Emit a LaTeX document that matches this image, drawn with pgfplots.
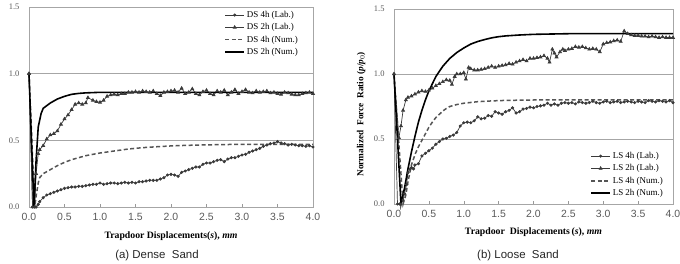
\documentclass[border=0pt]{standalone}
\usepackage{pgfplots}
\pgfplotsset{compat=1.18}
\usepackage{fontspec}
\setmainfont{Liberation Serif}
\newfontfamily\tsans{Liberation Sans}
\definecolor{lab}{HTML}{3A3A3A}
\definecolor{numd}{HTML}{555555}
\definecolor{tick}{HTML}{595959}
\pgfplotsset{
  myax/.style={
    scale only axis, anchor=south west,
    xmin=0, xmax=4, ymin=0, ymax=1.5,
    xtick={0,0.5,1,1.5,2,2.5,3,3.5,4},
    ytick={0,0.5,1,1.5},
    ymajorgrids, grid style={black!35, line width=0.5bp},
    axis line style={black!35, line width=0.5bp},
    xtick pos=bottom, ytick pos=left,
    ytick style={draw=none},
    xtick style={black!40, line width=0.5bp},
    tick align=inside, major tick length=3bp,
    xticklabel style={font=\tsans\fontsize{10.5}{11}\selectfont, text=tick, yshift=-3bp},
    yticklabel style={font=\fontsize{8.5}{9}\selectfont, text=tick, xshift=-6bp},
    xticklabel={\pgfmathprintnumber[fixed,fixed zerofill,precision=1]{\tick}},
    yticklabel={\pgfmathprintnumber[fixed,fixed zerofill,precision=1]{\tick}},
    /pgf/number format/assume math mode=true,
    xlabel style={font=\fontsize{9.8}{10}\selectfont, at={(axis description cs:0.5,-0.145)}, anchor=center},
    ylabel={\textbf{Normalized\ \ Force\ \ Ratio (\textit{p}/\textit{p}$_0$)}},
    ylabel style={font=\fontsize{9.3}{10}\selectfont, at={(axis description cs:-0.118,0.46)}, anchor=center, rotate=0},
    legend style={draw=none, fill=none, font=\fontsize{9}{9}\selectfont, row sep=0.6bp, inner sep=1bp},
    legend cell align=left,
    legend image code/.code={\draw[mark repeat=2,mark phase=2] plot coordinates {(0cm,0cm) (0.33cm,0cm) (0.66cm,0cm)};},
    clip=false,
  },
  labc/.style={color=lab, line width=0.7bp, mark=*, mark size=1.2bp, mark options={fill=lab, draw=lab}},
  labt/.style={color=lab, line width=0.7bp, mark=triangle*, mark size=1.7bp, mark options={fill=lab, draw=lab}},
  numd/.style={color=numd, line width=1.5bp, dash pattern=on 4bp off 2.5bp, mark=none},
  nums/.style={color=black, line width=1.6bp, mark=none},
}
\begin{document}
\begin{tikzpicture}[x=1bp,y=1bp]
\begin{axis}[myax, at={(29bp,56bp)}, width=284bp, height=200bp,
  xlabel={\textbf{Trapdoor Displacements(\textit{s}), \textit{mm}}},
  legend style={at={(axis description cs:0.958,0.995)}, anchor=north east}]
\addplot[labc] coordinates {
(0,1.0)(0.05,0.0)(0.08,0.0)(0.10,0.0)(0.13,0.02)(0.15,0.04)(0.20,0.07)(0.25,0.09)(0.30,0.10)(0.35,0.11)
(0.40,0.12)(0.45,0.13)(0.50,0.14)(0.55,0.145)(0.60,0.15)(0.65,0.15)(0.70,0.155)(0.75,0.155)(0.80,0.16)(0.85,0.165)
(0.90,0.17)(0.95,0.17)(1.00,0.18)(1.05,0.17)(1.10,0.175)(1.15,0.18)(1.20,0.18)(1.25,0.175)(1.30,0.18)(1.35,0.185)
(1.40,0.18)(1.45,0.185)(1.50,0.18)(1.55,0.19)(1.60,0.19)(1.65,0.195)(1.70,0.20)(1.75,0.20)(1.80,0.20)(1.85,0.21)
(1.90,0.22)(1.95,0.24)(2.00,0.245)(2.05,0.24)(2.10,0.23)(2.15,0.26)(2.20,0.27)(2.25,0.28)(2.30,0.29)(2.35,0.30)
(2.40,0.30)(2.45,0.32)(2.50,0.33)(2.55,0.33)(2.60,0.34)(2.65,0.35)(2.70,0.355)(2.75,0.34)(2.80,0.36)(2.85,0.37)
(2.90,0.37)(2.95,0.38)(3.00,0.39)(3.05,0.395)(3.10,0.41)(3.15,0.42)(3.20,0.43)(3.25,0.44)(3.30,0.455)(3.35,0.465)
(3.40,0.475)(3.45,0.48)(3.50,0.49)(3.55,0.48)(3.60,0.475)(3.65,0.465)(3.70,0.47)(3.75,0.465)(3.80,0.46)(3.85,0.46)
(3.90,0.455)(3.95,0.46)(4.00,0.45)};
\addlegendentry{DS 4h (Lab.)}
\addplot[labt] coordinates {
(0,1.0)(0.05,0.0)(0.08,0.0)(0.10,0.25)(0.13,0.40)(0.15,0.43)(0.20,0.46)(0.25,0.51)(0.30,0.54)(0.35,0.55)
(0.40,0.57)(0.45,0.62)(0.50,0.66)(0.55,0.69)(0.60,0.73)(0.65,0.77)(0.70,0.78)(0.75,0.77)(0.80,0.78)(0.83,0.82)
(0.90,0.80)(0.95,0.79)(1.00,0.785)(1.05,0.80)(1.10,0.83)(1.15,0.84)(1.20,0.845)(1.25,0.84)(1.30,0.85)(1.35,0.85)
(1.40,0.86)(1.45,0.86)(1.50,0.865)(1.55,0.86)(1.60,0.87)(1.65,0.865)(1.70,0.86)(1.75,0.87)(1.80,0.85)(1.85,0.835)
(1.90,0.86)(1.95,0.865)(2.00,0.87)(2.05,0.875)(2.10,0.86)(2.15,0.89)(2.20,0.85)(2.25,0.86)(2.30,0.885)(2.35,0.85)
(2.40,0.84)(2.45,0.865)(2.50,0.875)(2.55,0.85)(2.60,0.84)(2.65,0.87)(2.70,0.86)(2.75,0.875)(2.80,0.84)(2.85,0.86)
(2.90,0.88)(2.95,0.85)(3.00,0.865)(3.05,0.88)(3.10,0.86)(3.15,0.855)(3.20,0.87)(3.25,0.86)(3.30,0.865)(3.35,0.87)
(3.40,0.855)(3.45,0.86)(3.50,0.85)(3.55,0.845)(3.60,0.86)(3.65,0.855)(3.70,0.845)(3.75,0.84)(3.80,0.84)(3.85,0.85)
(3.90,0.855)(3.95,0.86)(4.00,0.85)};
\addlegendentry{DS 2h (Lab.)}
\addplot[numd] coordinates {
(0,1.0)(0.08,0.0)(0.10,0.08)(0.13,0.18)(0.15,0.22)(0.20,0.25)(0.30,0.28)(0.40,0.31)(0.50,0.335)(0.60,0.355)
(0.70,0.37)(0.80,0.385)(0.90,0.395)(1.00,0.405)(1.20,0.42)(1.40,0.435)(1.60,0.445)(1.80,0.452)(2.00,0.458)
(2.20,0.462)(2.40,0.465)(2.70,0.468)(3.00,0.47)(3.50,0.47)(4.00,0.47)};
\addlegendentry{DS 4h (Num.)}
\addplot[nums] coordinates {
(0,1.0)(0.07,0.0)(0.10,0.35)(0.13,0.60)(0.17,0.70)(0.20,0.74)(0.25,0.76)(0.30,0.78)(0.40,0.81)(0.50,0.83)
(0.60,0.845)(0.70,0.852)(0.80,0.856)(0.90,0.858)(1.00,0.86)(1.50,0.86)(4.00,0.86)};
\addlegendentry{DS 2h (Num.)}
\end{axis}
\begin{axis}[myax, at={(394bp,59bp)}, width=279bp, height=195bp,
  xlabel={\textbf{Trapdoor\ \ Displacements\,(\textit{s}), \textit{mm}}},
  legend style={at={(axis description cs:0.975,0.02)}, anchor=south east}]
\addplot[labc] coordinates {
(0,1.0)(0.05,0.0)(0.08,0.0)(0.10,0.0)(0.13,0.03)(0.15,0.08)(0.18,0.15)(0.20,0.24)(0.23,0.27)(0.25,0.28)
(0.28,0.27)(0.30,0.30)(0.35,0.31)(0.40,0.37)(0.45,0.39)(0.50,0.41)(0.55,0.43)(0.60,0.46)(0.65,0.48)(0.70,0.50)
(0.75,0.505)(0.80,0.52)(0.85,0.53)(0.90,0.55)(0.95,0.60)(1.00,0.625)(1.05,0.63)(1.10,0.625)(1.15,0.64)(1.20,0.67)
(1.25,0.655)(1.30,0.66)(1.35,0.68)(1.40,0.675)(1.45,0.71)(1.50,0.70)(1.55,0.69)(1.60,0.71)(1.65,0.72)(1.70,0.74)
(1.75,0.70)(1.80,0.71)(1.85,0.73)(1.90,0.735)(1.95,0.745)(2.00,0.74)(2.05,0.75)(2.10,0.755)(2.15,0.76)(2.20,0.775)
(2.25,0.76)(2.30,0.77)(2.35,0.76)(2.40,0.775)(2.45,0.78)(2.50,0.775)(2.55,0.78)(2.60,0.77)(2.65,0.785)(2.70,0.78)
(2.75,0.775)(2.80,0.78)(2.85,0.79)(2.90,0.78)(2.95,0.775)(3.00,0.785)(3.05,0.79)(3.10,0.78)(3.15,0.785)(3.20,0.79)
(3.25,0.78)(3.30,0.785)(3.35,0.79)(3.40,0.785)(3.45,0.78)(3.50,0.79)(3.55,0.785)(3.60,0.78)(3.65,0.795)(3.70,0.79)
(3.75,0.785)(3.80,0.795)(3.85,0.79)(3.90,0.785)(3.95,0.795)(4.00,0.78)};
\addlegendentry{LS 4h (Lab.)}
\addplot[labt] coordinates {
(0,1.0)(0.07,0.51)(0.10,0.60)(0.13,0.72)(0.17,0.80)(0.20,0.82)(0.25,0.83)(0.30,0.845)(0.35,0.86)(0.40,0.87)
(0.45,0.865)(0.50,0.875)(0.55,0.89)(0.60,0.91)(0.65,0.925)(0.70,0.94)(0.75,0.955)(0.80,0.95)(0.83,0.92)(0.87,0.98)
(0.90,1.0)(0.95,1.0)(1.00,1.01)(1.03,0.96)(1.07,1.05)(1.10,1.04)(1.15,1.03)(1.20,1.03)(1.25,1.035)(1.30,1.04)
(1.35,1.05)(1.40,1.06)(1.45,1.05)(1.50,1.06)(1.55,1.065)(1.60,1.07)(1.65,1.08)(1.70,1.075)(1.75,1.09)(1.80,1.10)
(1.85,1.11)(1.90,1.10)(1.95,1.12)(2.00,1.12)(2.05,1.125)(2.10,1.13)(2.15,1.14)(2.20,1.12)(2.23,1.09)(2.27,1.19)
(2.30,1.16)(2.33,1.13)(2.38,1.17)(2.42,1.19)(2.45,1.18)(2.50,1.19)(2.55,1.195)(2.60,1.21)(2.65,1.205)(2.70,1.21)
(2.75,1.20)(2.80,1.19)(2.85,1.195)(2.90,1.19)(2.95,1.17)(3.00,1.23)(3.05,1.24)(3.10,1.245)(3.15,1.255)(3.20,1.26)
(3.25,1.25)(3.30,1.33)(3.35,1.31)(3.40,1.30)(3.45,1.295)(3.50,1.295)(3.55,1.29)(3.60,1.29)(3.65,1.285)(3.70,1.29)
(3.75,1.285)(3.80,1.28)(3.85,1.285)(3.90,1.28)(3.95,1.28)(4.00,1.28)};
\addlegendentry{LS 2h (Lab.)}
\addplot[numd] coordinates {
(0,1.0)(0.13,0.0)(0.17,0.07)(0.20,0.17)(0.25,0.30)(0.30,0.38)(0.35,0.44)(0.40,0.49)(0.45,0.54)(0.50,0.59)
(0.55,0.63)(0.60,0.665)(0.65,0.69)(0.70,0.715)(0.75,0.735)(0.80,0.75)(0.90,0.765)(1.00,0.775)(1.20,0.787)
(1.40,0.793)(1.60,0.797)(2.00,0.80)(4.00,0.80)};
\addlegendentry{LS 4h (Num.)}
\addplot[nums] coordinates {
(0,1.0)(0.10,0.0)(0.15,0.12)(0.20,0.27)(0.25,0.40)(0.30,0.52)(0.35,0.63)(0.40,0.72)(0.45,0.80)(0.50,0.87)
(0.60,0.98)(0.70,1.06)(0.80,1.12)(0.90,1.165)(1.00,1.20)(1.10,1.23)(1.20,1.25)(1.30,1.265)(1.40,1.278)
(1.50,1.287)(1.60,1.293)(1.80,1.30)(2.00,1.305)(2.50,1.31)(4.00,1.31)};
\addlegendentry{LS 2h (Num.)}
\end{axis}
\node[font=\tsans\fontsize{11.5}{12}\selectfont, text=black!85] at (157,7) {(a)\ Dense\ \ Sand};
\node[font=\tsans\fontsize{11.5}{12}\selectfont, text=black!85] at (518,7) {(b)\ Loose\ \ Sand};
\pgfresetboundingbox
\useasboundingbox (0,0) rectangle (680,263);
\end{tikzpicture}
\end{document}
